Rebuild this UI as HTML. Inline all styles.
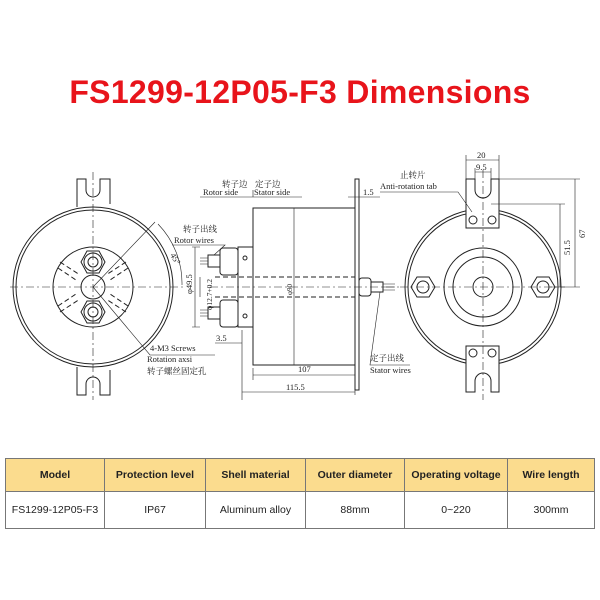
<!DOCTYPE html>
<html><head><meta charset="utf-8"><style>
body{margin:0;width:600px;height:600px;background:#fff;overflow:hidden;font-family:"Liberation Sans","Noto Sans CJK SC",sans-serif}
.t{position:absolute;top:74px;left:0;width:600px;text-align:center;color:#e8141b;font-weight:bold;font-size:32px;letter-spacing:0.3px}
table{position:absolute;left:5px;top:458px;width:590px;border-collapse:collapse;font-size:10.5px;color:#222}
td{border:1px solid #777;text-align:center;padding:0}
tr.h td{background:#fbdc8e;height:32px;font-weight:bold}
tr.d td{height:36px}
svg{position:absolute;left:0;top:0}
</style></head><body>
<div class="t">FS1299-12P05-F3 Dimensions</div>
<svg width="600" height="450" font-family="Liberation Serif,Noto Serif CJK SC,serif" font-size="8.5" stroke="#222" fill="none" stroke-width="1">
<g>
<path d="M77 207 V179 H86 V190 A7 7 0 0 0 100 190 V179 H110 V204"/>
<path d="M77 367 V395 H86 V384 A7 7 0 0 1 100 384 V395 H110 V370"/>
<circle cx="93" cy="287" r="80" fill="#fff"/>
<circle cx="93" cy="287" r="77"/>
<circle cx="93" cy="287" r="40"/>
<circle cx="93" cy="287" r="12"/>
<path d="M60 262 L80 275 M58 268 L76 280 M126 262 L106 275 M128 268 L110 280 M60 312 L80 299 M58 306 L76 294 M126 312 L106 299 M128 306 L110 294" stroke-dasharray="5 3"/>
<polygon points="81,262 87,251 99,251 105,262 99,273 87,273"/><circle cx="93" cy="262" r="9"/><circle cx="93" cy="262" r="5"/>
<polygon points="81,312 87,301 99,301 105,312 99,323 87,323"/><circle cx="93" cy="312" r="9"/><circle cx="93" cy="312" r="5"/>
<path d="M10 287 H185 M93 172 V400" stroke-dasharray="8 3 2 3" stroke-width="0.6"/>
<path d="M93 287 L155 222 M93 287 L150 355 L215 355" stroke-width="0.6"/>
<path d="M158 224 A85 85 0 0 1 182 285" stroke-width="0.6"/>
</g>
<text x="170" y="255" fill="#222" stroke="none" transform="rotate(60 170 255)">45°</text>
<text x="150" y="351" fill="#222" stroke="none">4-M3 Screws</text>
<text x="147" y="362" fill="#222" stroke="none">Rotation axsi</text>
<text x="147" y="374" fill="#222" stroke="none">转子螺丝固定孔</text>
<rect x="253" y="208" width="102" height="157"/>
<line x1="294" y1="208" x2="294" y2="365" stroke-width="0.6"/>
<rect x="355" y="179" width="4" height="211"/>
<rect x="238" y="247" width="15" height="80"/>
<circle cx="245" cy="258" r="2"/><circle cx="245" cy="316" r="2"/>
<rect x="220" y="248" width="18" height="27" rx="3"/><rect x="220" y="300" width="18" height="27" rx="3"/>
<rect x="208" y="255" width="12" height="12"/><rect x="208" y="307" width="12" height="12"/>
<path d="M200 258h8M200 261h8M200 264h8M200 310h8M200 313h8M200 316h8" stroke-width="0.6"/>
<path d="M215 277 H355 M215 297 H355" stroke-dasharray="5 3"/>
<path d="M210 287 H400" stroke-dasharray="8 3 2 3" stroke-width="0.6"/>
<rect x="359" y="278" width="12" height="18" rx="3"/><rect x="371" y="282" width="12" height="10"/>
<path d="M383 284h12M383 287h12M383 290h12" stroke-width="0.6"/>
<path d="M195 247 V327 M192 247h8 M192 327h8 M200 277 V297" stroke-width="0.6"/>
<text x="192" y="294" fill="#222" stroke="none" transform="rotate(-90 192 294)">φ49.5</text>
<text x="212" y="310" fill="#222" stroke="none" transform="rotate(-90 212 310)" font-size="7.5">φ12.7+0.2</text>
<text x="292" y="295" fill="#222" stroke="none" transform="rotate(-90 292 295)" font-size="7">φ90</text>
<path d="M215 343 H242 M242 330 V400 M253 368 V380 M355 368 V395" stroke-width="0.6"/>
<text x="216" y="341" fill="#222" stroke="none">3.5</text>
<path d="M253 375 H355 M242 392 H355" stroke-width="0.6"/>
<text x="298" y="372" fill="#222" stroke="none">107</text>
<text x="286" y="390" fill="#222" stroke="none">115.5</text>
<path d="M200 197 H302 M253 197 V190" stroke-width="0.6"/>
<text x="203" y="195" fill="#222" stroke="none">Rotor side</text>
<text x="254" y="195" fill="#222" stroke="none">Stator side</text>
<text x="222" y="187" fill="#222" stroke="none">转子边</text><text x="255" y="187" fill="#222" stroke="none">定子边</text>
<path d="M348 197 H380" stroke-width="0.6"/><text x="363" y="195" fill="#222" stroke="none">1.5</text>
<path d="M172 245 H225 L214 255" stroke-width="0.6"/>
<text x="174" y="243" fill="#222" stroke="none">Rotor wires</text><text x="183" y="232" fill="#222" stroke="none">转子出线</text>
<path d="M380 292 L370 365 H410" stroke-width="0.6"/>
<text x="370" y="361" fill="#222" stroke="none">定子出线</text><text x="370" y="373" fill="#222" stroke="none">Stator wires</text>
<circle cx="483" cy="287" r="78"/><circle cx="483" cy="287" r="75"/>
<circle cx="483" cy="287" r="39"/><circle cx="483" cy="287" r="30"/><circle cx="483" cy="287" r="10"/>
<path d="M466 228 V179 H475 V190 A8 8 0 0 0 491 190 V179 H499 V228 Z" fill="#fff"/>
<circle cx="473" cy="220" r="4"/><circle cx="492" cy="220" r="4"/>
<path d="M466 346 V392 H475 V381 A8 8 0 0 1 491 381 V392 H499 V346 Z" fill="#fff"/>
<circle cx="473" cy="353" r="4"/><circle cx="492" cy="353" r="4"/>
<polygon points="411,287 417,277 429,277 435,287 429,297 417,297"/><circle cx="423" cy="287" r="6"/>
<polygon points="531,287 537,277 549,277 555,287 549,297 537,297"/><circle cx="543" cy="287" r="6"/>
<path d="M400 287 H565 M483 170 V400" stroke-dasharray="8 3 2 3" stroke-width="0.6"/>
<path d="M466 160 H499 M466 155 V179 M499 155 V179 M475 172 H491 M475 168 V179 M491 168 V179" stroke-width="0.6"/>
<text x="477" y="158" fill="#222" stroke="none">20</text><text x="476" y="170" fill="#222" stroke="none">9.5</text>
<path d="M499 179 H580 M575 179 V287 M491 204 H565 M560 204 V287 M550 287 H580" stroke-width="0.6"/>
<text x="585" y="238" fill="#222" stroke="none" transform="rotate(-90 585 238)">67</text>
<text x="570" y="255" fill="#222" stroke="none" transform="rotate(-90 570 255)">51.5</text>
<path d="M380 192 H458 L472 212" stroke-width="0.6"/>
<text x="380" y="189" fill="#222" stroke="none">Anti-rotation tab</text><text x="400" y="178" fill="#222" stroke="none">止转片</text>
</svg>
<table>
<tr class="h"><td style="width:98px">Model</td><td style="width:100px">Protection level</td><td style="width:99px">Shell material</td><td style="width:98px">Outer diameter</td><td style="width:102px">Operating voltage</td><td>Wire length</td></tr>
<tr class="d"><td>FS1299-12P05-F3</td><td>IP67</td><td>Aluminum alloy</td><td>88mm</td><td>0~220</td><td>300mm</td></tr>
</table>
</body></html>
